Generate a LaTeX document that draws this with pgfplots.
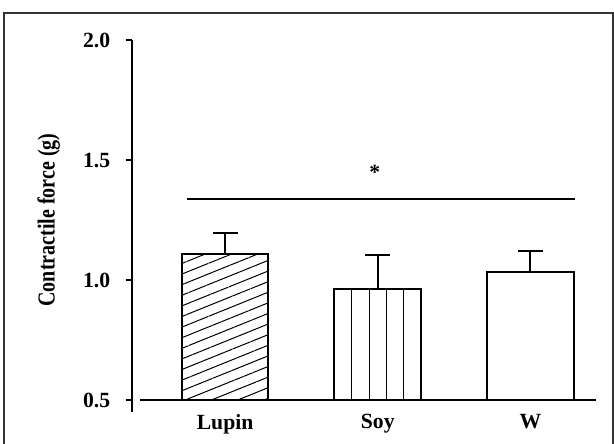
\documentclass[border=0pt]{standalone}
\usepackage{pgfplots}
\pgfplotsset{compat=1.18}
\usepackage{graphicx}
\usepackage{fontspec}
\setmainfont{Liberation Serif}
\usetikzlibrary{patterns.meta}
\begin{document}
\begin{tikzpicture}
\useasboundingbox (-79.2pt,-25.8pt) rectangle (289.2pt,240pt);
\draw[line width=0.9pt, black!80] (-76.8pt,-40pt) -- (-76.8pt,232.2pt) -- (288.6pt,232.2pt) -- (288.6pt,-40pt);
\begin{axis}[
  at={(0pt,0pt)}, anchor=south west,
  scale only axis, width=278.4pt, height=216pt,
  xmin=-0.61, xmax=2.43, ymin=0.5, ymax=2.0,
  clip mode=individual,
  axis y line*=left,
  axis x line*=bottom,
  x axis line style={draw=none},
  y axis line style={line width=1.2pt},
  xtick={0,1,2}, xticklabels={Lupin,Soy,W},
  xtick style={draw=none},
  xticklabel style={font=\bfseries\fontsize{13}{15}\selectfont, yshift=-1.5pt},
  ytick={0.5,1.0,1.5,2.0},
  yticklabels={0.5,1.0,1.5,2.0},
  ytick style={line width=1.2pt, black},
  tick align=outside, major tick length=3.6pt,
  yticklabel style={font=\bfseries\fontsize{13}{15}\selectfont, xshift=-6pt},
  ylabel={\scalebox{1}[1.22]{Contractile force (g)}},
  ylabel style={font=\bfseries\fontsize{12}{14}\selectfont, yshift=7pt},
  /pgf/number format/assume math mode=true,
  ybar, bar width=52pt,
  error bars/y dir=plus, error bars/y explicit,
  error bars/error bar style={line width=1.2pt, black},
  error bars/error mark options={rotate=90, line width=1.2pt, mark size=7.5pt, black},
]
\addplot[draw=black, line width=1.2pt, fill=white, postaction={pattern={Lines[angle=22,distance=5.9pt,line width=0.6pt]}}, bar shift=0pt]
  coordinates {(0,1.108) +- (0,0.088)};
\addplot[draw=black, line width=1.2pt, fill=white, postaction={pattern={Lines[angle=90,distance=10.4pt,line width=0.6pt,xshift=3pt]}}, bar shift=0pt]
  coordinates {(1,0.9625) +- (0,0.1415)};
\addplot[draw=black, line width=1.2pt, fill=white, bar shift=0pt]
  coordinates {(2,1.033) +- (0,0.088)};
\draw[line width=1.5pt] (axis cs:-0.558,0.5) -- (axis cs:2.43,0.5);
\draw[line width=1.2pt] (axis cs:-0.61,0.5) -- (axis cs:-0.61,0.45);
\draw[line width=1.5pt] (axis cs:-0.25,1.3375) -- (axis cs:2.29,1.3375);
\node[font=\bfseries\fontsize{13}{14}\selectfont] at (axis cs:0.98,1.45) {*};
\end{axis}
\end{tikzpicture}
\end{document}
